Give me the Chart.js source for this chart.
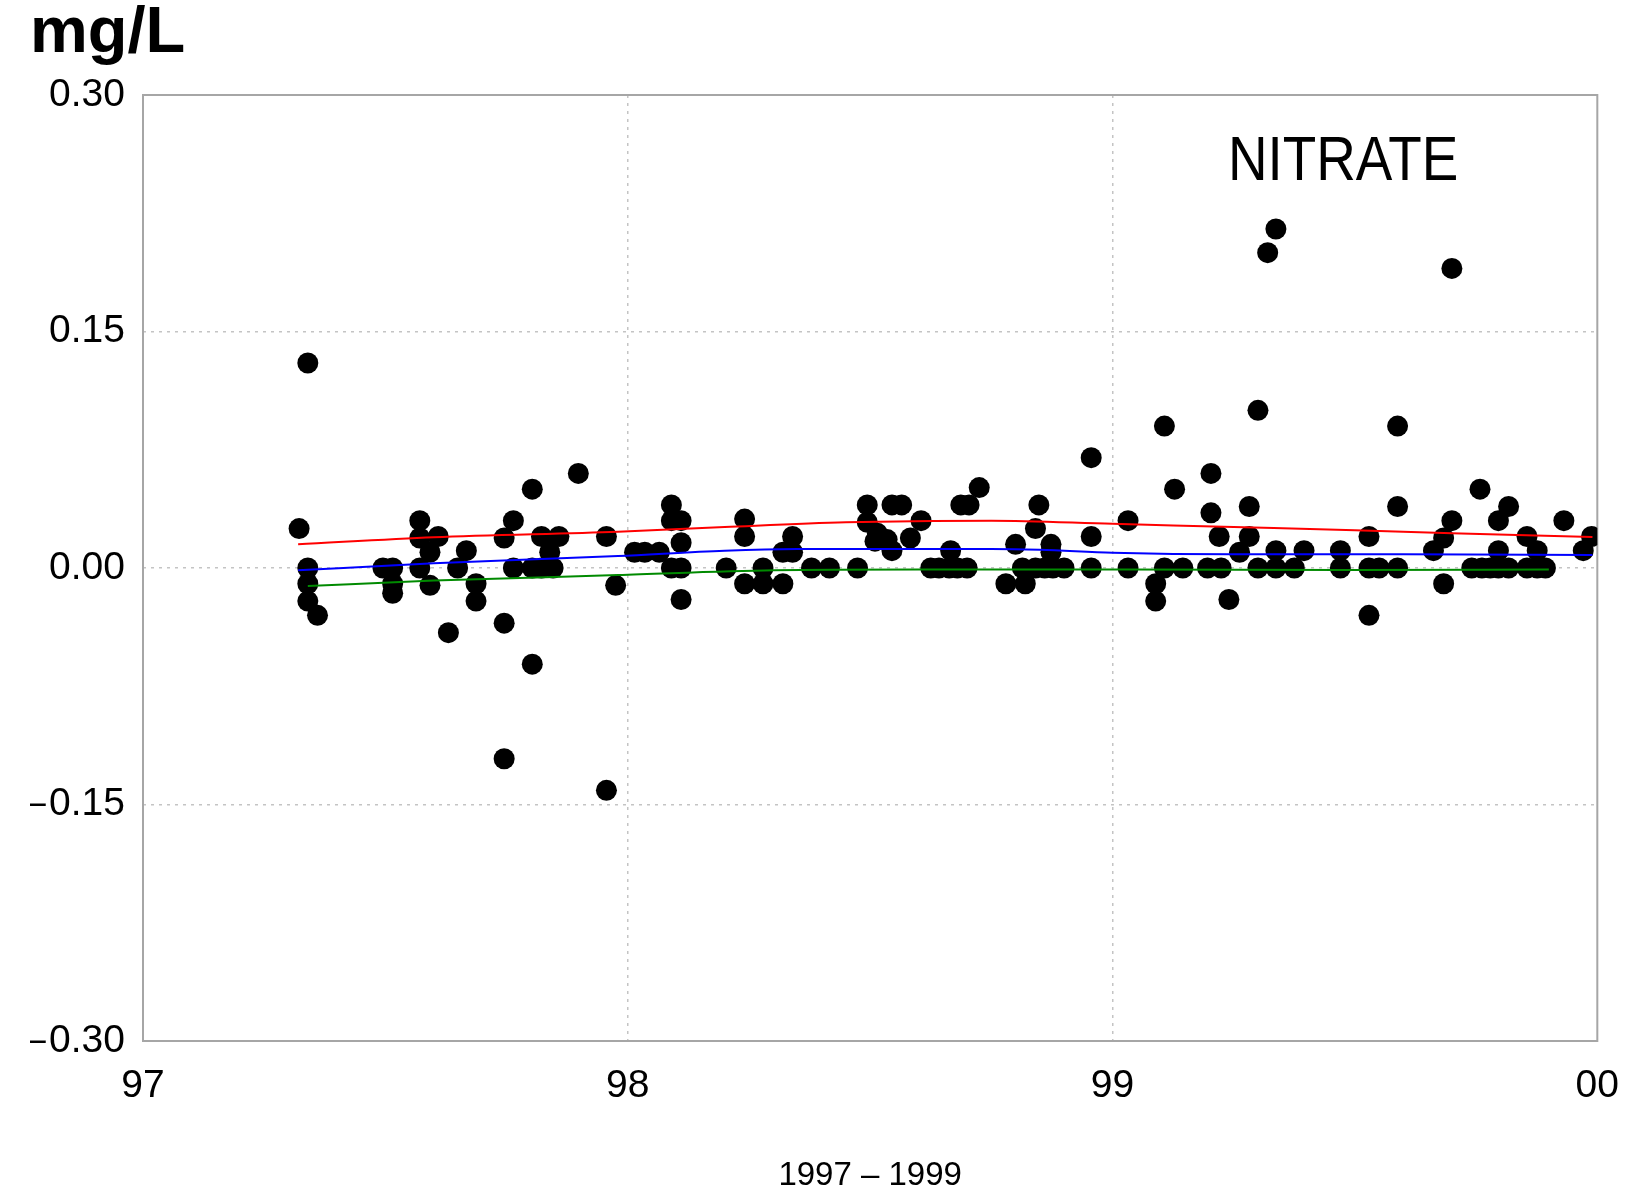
<!DOCTYPE html>
<html>
<head>
<meta charset="utf-8">
<script src="https://cdn.jsdelivr.net/npm/chart.js@4.4.0/dist/chart.umd.min.js"></script>
<style>
    html, body { margin: 0; padding: 0; background: #fff; }
</style>
</head>
<body>
<canvas id="nitratechart" width="1641" height="1189"></canvas>
<script>
// tick positions and their labels
const xTickValues = [1997, 1998, 1999, 2000];
const xTickLabels = ["97", "98", "99", "00"];
const yTickValues = [-0.3, -0.15, 0, 0.15, 0.3];
const yTickLabels = ["\u2014\u200a0.30", "\u2014\u200a0.15", "0.00", "0.15", "0.30"];

// nitrate samples (decimal year, mg/L)
const sampleYears = [
    1997.322, 1997.340, 1997.340, 1997.340, 1997.340, 1997.360, 1997.495, 1997.515, 1997.515, 1997.515,
    1997.571, 1997.571, 1997.571, 1997.592, 1997.592, 1997.609, 1997.630, 1997.649, 1997.667, 1997.687,
    1997.687, 1997.745, 1997.745, 1997.745, 1997.764, 1997.764, 1997.803, 1997.803, 1997.803, 1997.822,
    1997.822, 1997.839, 1997.846, 1997.858, 1997.898, 1997.956, 1997.956, 1997.975, 1998.014, 1998.035,
    1998.065, 1998.090, 1998.090, 1998.110, 1998.110, 1998.090, 1998.110, 1998.110, 1998.203, 1998.241,
    1998.241, 1998.241, 1998.279, 1998.279, 1998.320, 1998.320, 1998.340, 1998.340, 1998.379, 1998.416,
    1998.474, 1998.494, 1998.494, 1998.515, 1998.510, 1998.535, 1998.545, 1998.565, 1998.545, 1998.583,
    1998.605, 1998.625, 1998.642, 1998.663, 1998.680, 1998.700, 1998.666, 1998.687, 1998.704, 1998.725,
    1998.780, 1998.800, 1998.820, 1998.814, 1998.841, 1998.841, 1998.848, 1998.873, 1998.873, 1998.860,
    1998.877, 1998.900, 1998.956, 1998.956, 1998.956, 1999.032, 1999.032, 1999.089, 1999.089, 1999.107,
    1999.107, 1999.128, 1999.145, 1999.203, 1999.203, 1999.220, 1999.196, 1999.224, 1999.240, 1999.262,
    1999.282, 1999.282, 1999.300, 1999.300, 1999.320, 1999.337, 1999.337, 1999.337, 1999.375, 1999.395,
    1999.470, 1999.470, 1999.529, 1999.529, 1999.529, 1999.550, 1999.588, 1999.588, 1999.588, 1999.662,
    1999.683, 1999.683, 1999.700, 1999.700, 1999.741, 1999.758, 1999.762, 1999.779, 1999.796, 1999.796,
    1999.796, 1999.817, 1999.817, 1999.855, 1999.855, 1999.876, 1999.876, 1999.893, 1999.931, 1999.971,
    1999.988
];
const sampleValues = [
    0.025, 0.130, 0.000, -0.010, -0.021, -0.030, 0.000, 0.000, -0.010, -0.016,
    0.030, 0.019, 0.000, 0.010, -0.011, 0.020, -0.041, 0.000, 0.011, -0.010,
    -0.021, 0.019, -0.035, -0.121, 0.030, 0.000, 0.050, -0.061, 0.000, 0.020,
    0.000, 0.010, 0.000, 0.020, 0.060, 0.020, -0.141, -0.011, 0.010, 0.010,
    0.010, 0.040, 0.030, 0.030, 0.016, 0.000, 0.000, -0.020, 0.000, 0.031,
    0.020, -0.010, -0.010, 0.000, -0.010, 0.010, 0.020, 0.010, 0.000, 0.000,
    0.000, 0.040, 0.029, 0.022, 0.017, 0.018, 0.040, 0.040, 0.011, 0.019,
    0.030, 0.000, 0.000, 0.000, 0.000, 0.000, 0.011, 0.040, 0.040, 0.051,
    -0.010, 0.015, -0.010, 0.000, 0.000, 0.025, 0.040, 0.015, 0.010, 0.000,
    0.000, 0.000, 0.070, 0.020, 0.000, 0.030, 0.000, -0.010, -0.021, 0.090,
    0.000, 0.050, 0.000, 0.060, 0.035, 0.020, 0.000, 0.000, -0.020, 0.010,
    0.039, 0.020, 0.100, 0.000, 0.200, 0.215, 0.011, 0.000, 0.000, 0.011,
    0.011, 0.000, 0.020, 0.000, -0.030, 0.000, 0.090, 0.039, 0.000, 0.011,
    0.019, -0.010, 0.030, 0.190, 0.000, 0.050, 0.000, 0.000, 0.030, 0.011,
    0.000, 0.039, 0.000, 0.020, 0.000, 0.011, 0.000, 0.000, 0.030, 0.011,
    0.020
];

// smoothed curves (upper, middle, lower)
const upperYears = [1997.32, 1997.6, 1997.98, 1998.2, 1998.45, 1998.75, 1999.0, 1999.25, 1999.5, 1999.7, 1999.99];
const upperValues = [0.015, 0.0195, 0.023, 0.026, 0.029, 0.030, 0.028, 0.026, 0.024, 0.022, 0.0197];
const middleYears = [1997.32, 1997.6, 1997.98, 1998.2, 1998.35, 1998.75, 1998.85, 1999.0, 1999.25, 1999.6, 1999.99];
const middleValues = [-0.0015, 0.003, 0.0076, 0.011, 0.012, 0.012, 0.0115, 0.0097, 0.0087, 0.0087, 0.0083];
const lowerYears = [1997.34, 1997.6, 1997.98, 1998.3, 1998.6, 1999.0, 1999.5, 1999.9];
const lowerValues = [-0.0114, -0.008, -0.0045, -0.0015, -0.001, -0.001, -0.0012, -0.001];

const plainFont = "'Liberation Sans', Arial, Helvetica, sans-serif";

function toPoints(xs, ys) {
    return xs.map((x, i) => ({ x: x, y: ys[i] }));
}

function curve(label, xs, ys, color) {
    return {
        label: label,
        data: toPoints(xs, ys),
        showLine: true,
        borderColor: color,
        borderWidth: 2,
        pointRadius: 0,
        cubicInterpolationMode: "monotone",
        order: 0,
    };
}

function gridColor(ctx, values) {
    const v = ctx.tick.value;
    return v === values[0] || v === values[values.length - 1] ? "rgba(0,0,0,0)" : "#c4c4c4";
}

// box around the plot area and the NITRATE label
const framePlugin = {
    id: "frame",
    beforeDatasetsDraw(chart) {
        const { ctx, chartArea } = chart;
        ctx.save();
        ctx.strokeStyle = "#a6a6a6";
        ctx.lineWidth = 2;
        ctx.strokeRect(chartArea.left, chartArea.top, chartArea.right - chartArea.left, chartArea.bottom - chartArea.top);
        ctx.restore();
    },
    afterDraw(chart) {
        const { ctx } = chart;
        ctx.save();
        ctx.fillStyle = "#000";
        ctx.textAlign = "left";
        ctx.textBaseline = "alphabetic";
        ctx.font = "63px " + plainFont;
        // the original lettering is a narrow face
        ctx.translate(1228, 180);
        ctx.scale(0.87, 1);
        ctx.fillText("NITRATE", 0, 0);
        ctx.restore();
    },
};

const config = {
    type: "scatter",
    data: {
        datasets: [
            curve("Upper", upperYears, upperValues, "#ff0000"),
            curve("Middle", middleYears, middleValues, "#0000ff"),
            curve("Lower", lowerYears, lowerValues, "#008a00"),
            {
                label: "Nitrate",
                data: toPoints(sampleYears, sampleValues),
                backgroundColor: "#000",
                borderWidth: 0,
                pointRadius: 10.5,
                order: 1,
            },
        ],
    },
    options: {
        responsive: false,
        animation: false,
        devicePixelRatio: 1,
        layout: { padding: { left: 30, right: 38, top: 0, bottom: 0 } },
        plugins: {
            legend: { display: false },
            tooltip: { enabled: false },
            title: {
                display: true,
                text: "mg/L",
                align: "start",
                color: "#000",
                font: { family: plainFont, size: 65, weight: "bold", lineHeight: 1 },
                padding: { top: 2, bottom: 28 },
            },
        },
        scales: {
            x: {
                type: "linear",
                min: 1997,
                max: 2000,
                afterBuildTicks: (scale) => { scale.ticks = xTickValues.map((v) => ({ value: v })); },
                afterFit: (scale) => { scale.height = 148; },
                grid: {
                    color: (ctx) => gridColor(ctx, xTickValues),
                    drawTicks: false,
                    lineWidth: 1.5,
                },
                border: { display: false, dash: [3, 5] },
                ticks: {
                    padding: 22,
                    color: "#000",
                    font: { family: plainFont, size: 39 },
                    callback: (value) => xTickLabels[xTickValues.indexOf(value)],
                },
                title: {
                    display: true,
                    text: "1997 \u2013 1999",
                    color: "#000",
                    font: { family: plainFont, size: 33, lineHeight: 0.8 },
                    padding: { top: 0, bottom: 0 },
                },
            },
            y: {
                type: "linear",
                min: -0.3,
                max: 0.3,
                afterBuildTicks: (scale) => { scale.ticks = yTickValues.map((v) => ({ value: v })); },
                afterFit: (scale) => { scale.width = 113; },
                grid: {
                    color: (ctx) => gridColor(ctx, yTickValues),
                    drawTicks: false,
                    lineWidth: 1.5,
                },
                border: { display: false, dash: [3, 5] },
                ticks: {
                    padding: 18,
                    color: "#000",
                    font: { family: plainFont, size: 39 },
                    callback: (value) => yTickLabels[yTickValues.indexOf(value)],
                },
            },
        },
    },
    plugins: [framePlugin],
};

new Chart(document.getElementById("nitratechart"), config);
</script>
</body>
</html>
